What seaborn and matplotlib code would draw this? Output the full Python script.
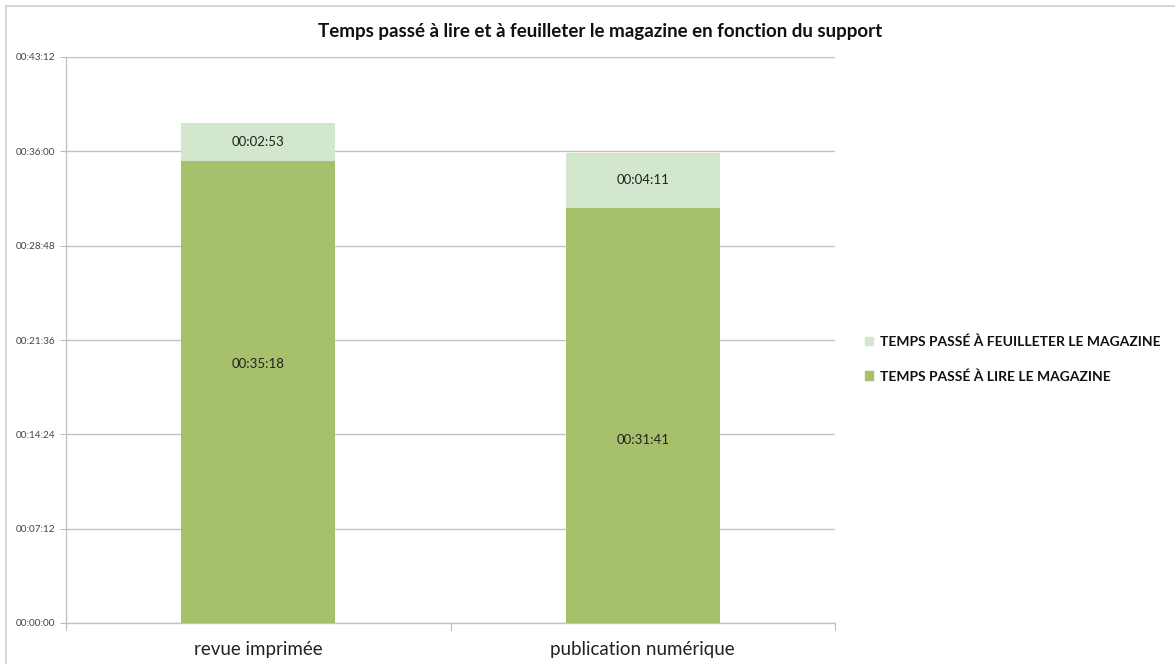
import matplotlib
matplotlib.use("Agg")
import matplotlib.pyplot as plt
from matplotlib.ticker import FuncFormatter, FixedLocator
from matplotlib.patches import Rectangle, Patch
import seaborn as sns
import pandas as pd

# Reading time per medium, in seconds
categories = ["revue imprimée", "publication numérique"]
lire = [35 * 60 + 18, 31 * 60 + 41]          # 00:35:18, 00:31:41
feuilleter = [2 * 60 + 53, 4 * 60 + 11]      # 00:02:53, 00:04:11
series_names = ["TEMPS PASSÉ À FEUILLETER LE MAGAZINE", "TEMPS PASSÉ À LIRE LE MAGAZINE"]
title = "Temps passé à lire et à feuilleter le magazine en fonction du support"

y_step = 7 * 60 + 12
y_max = 6 * y_step

color_lire = "#a7c06c"
color_feuil = "#d2e7cd"
grid_color = "#cbbdbf"

sns.set_theme(style="white")
plt.rcParams["font.family"] = ["Lato", "DejaVu Sans"]

df = pd.DataFrame({"support": categories, "lire": lire, "feuilleter": feuilleter})
df["total"] = df["lire"] + df["feuilleter"]

fig = plt.figure(figsize=(11.75, 6.64), dpi=100)
ax = fig.add_axes([66 / 1175, 1 - 623 / 664, (835 - 66) / 1175, (623 - 57) / 664])

sns.barplot(data=df, x="support", y="total", color=color_feuil, width=0.4,
            saturation=1, ax=ax, zorder=3, linewidth=0)
sns.barplot(data=df, x="support", y="lire", color=color_lire, width=0.4,
            saturation=1, ax=ax, zorder=3, linewidth=0)

# value labels
label_frac = [0.56, 0.44]
for i in range(len(categories)):
    ax.text(i, lire[i] * label_frac[i], "%02d:%02d:%02d" % (0, lire[i] // 60, lire[i] % 60),
            ha="center", va="center", fontsize=9.5, color="#222222", zorder=4)
    ax.text(i, lire[i] + feuilleter[i] / 2,
            "%02d:%02d:%02d" % (0, feuilleter[i] // 60, feuilleter[i] % 60),
            ha="center", va="center", fontsize=9.5, color="#222222", zorder=4)

ax.set_xlim(-0.5, 1.5)
ax.set_ylim(0, y_max)
ax.yaxis.set_major_locator(FixedLocator([y_step * k for k in range(7)]))
ax.yaxis.set_major_formatter(FuncFormatter(
    lambda v, p: "%02d:%02d:%02d" % (int(v) // 3600, (int(v) % 3600) // 60, int(v) % 60)))
ax.yaxis.grid(True, color=grid_color, linewidth=1, zorder=0)
ax.set_axisbelow(True)
ax.tick_params(axis="y", labelsize=7.2, length=4, width=0.8,
               direction="out", left=True, pad=4, color="#bbbbbb")
ax.tick_params(axis="y", labelcolor="#444444")
ax.set_xlabel("")
ax.set_ylabel("")

# category labels and boundary ticks on the x axis
ax.set_xticks([0, 1])
ax.set_xticklabels(categories, fontsize=13.5, color="#222222")
ax.tick_params(axis="x", length=0, pad=13)
for xb in [-0.5, 0.5, 1.5]:
    ax.plot([xb, xb], [0, -0.012], transform=ax.get_xaxis_transform(),
            color="#bbbbbb", lw=0.8, clip_on=False)

for side in ["top", "right"]:
    ax.spines[side].set_visible(False)
for side in ["left", "bottom"]:
    ax.spines[side].set_color("#c4c4c4")
    ax.spines[side].set_linewidth(1)

fig.text(600 / 1175, 1 - 32 / 664, title, ha="center", va="center",
         fontsize=13.5, fontweight="bold", color="#111111")

handles = [Patch(color=color_feuil), Patch(color=color_lire)]
leg = fig.legend(handles, series_names, loc="center left",
                 bbox_to_anchor=(852 / 1175, 1 - 359 / 664), frameon=False,
                 prop={"size": 10, "weight": "bold"}, handlelength=0.6,
                 handleheight=0.6, handletextpad=0.5, labelspacing=1.6)
for t in leg.get_texts():
    t.set_color("#111111")

# outer frame
fig.patches.append(Rectangle((6 / 1175, -0.01), 1.1, 1 - 6 / 664 + 0.01,
                             transform=fig.transFigure, fill=False,
                             edgecolor="#cfcfcf", linewidth=1.2))

fig.savefig("out.png", dpi=100, facecolor="white")
